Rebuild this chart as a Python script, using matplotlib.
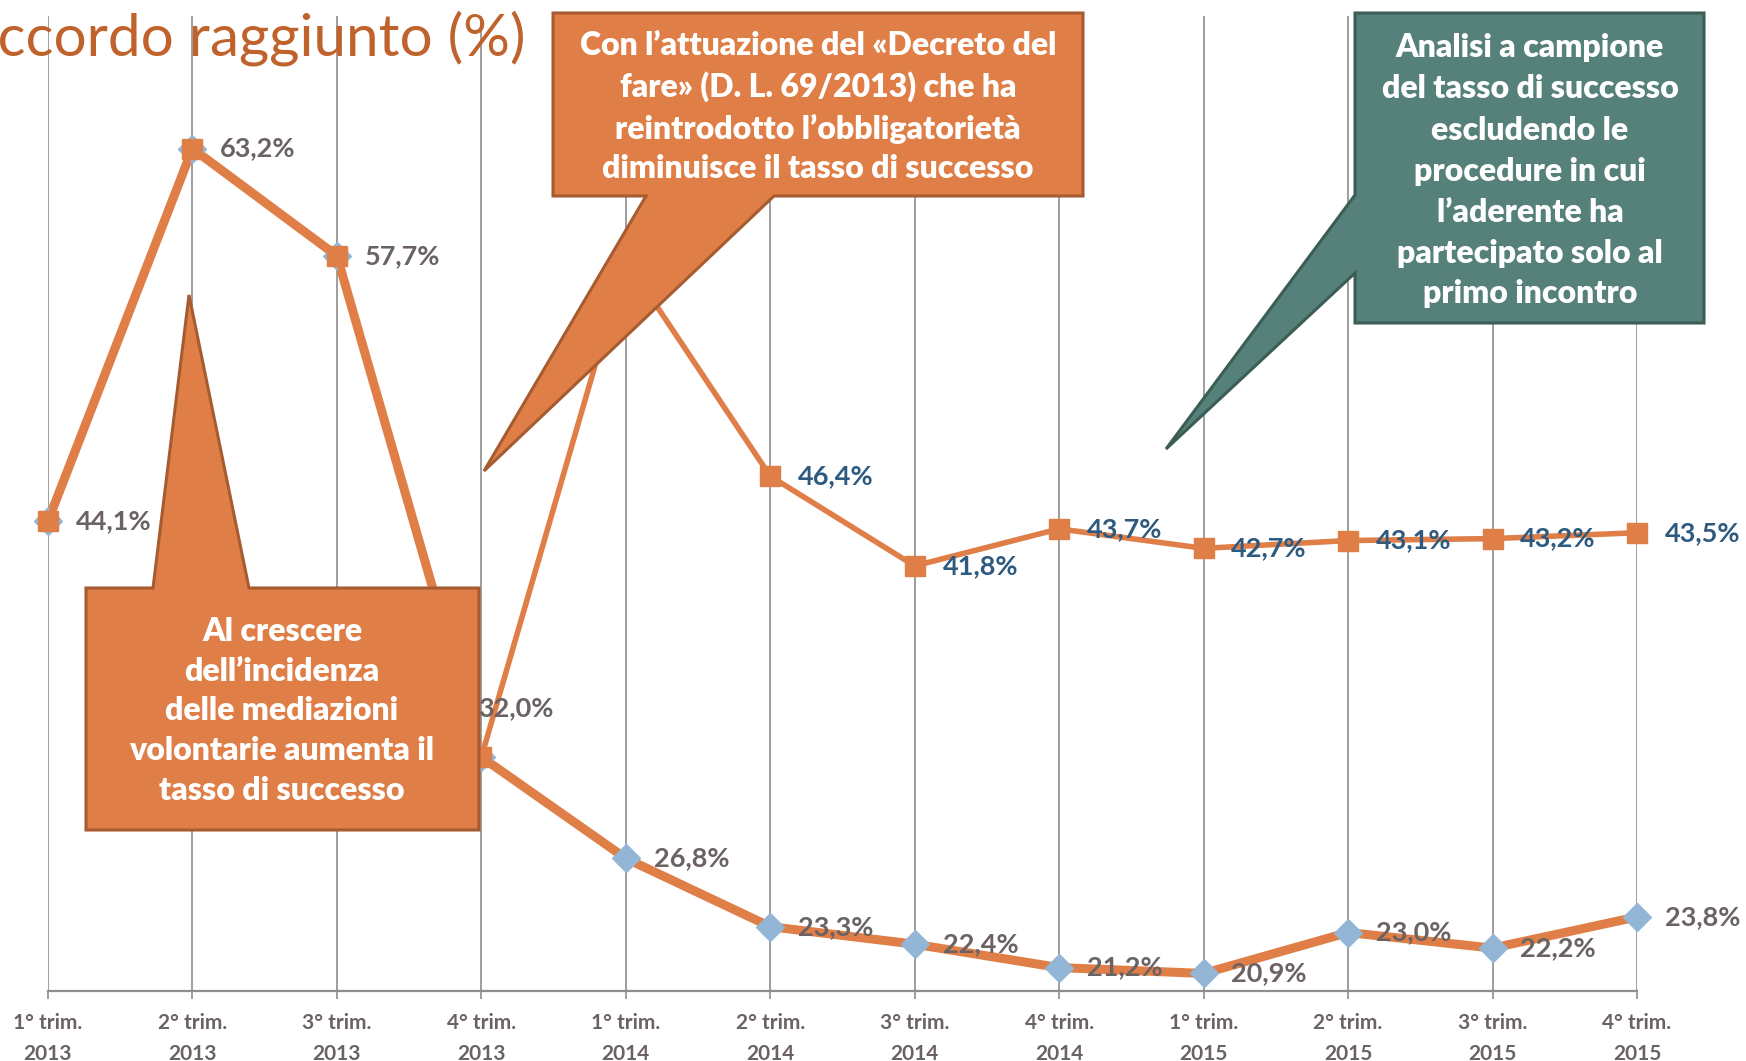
import matplotlib.pyplot as plt
from matplotlib.patches import Polygon

# data
quarters = ['1° trim.\n2013', '2° trim.\n2013', '3° trim.\n2013', '4° trim.\n2013',
            '1° trim.\n2014', '2° trim.\n2014', '3° trim.\n2014', '4° trim.\n2014',
            '1° trim.\n2015', '2° trim.\n2015', '3° trim.\n2015', '4° trim.\n2015']
tasso = [44.1, 63.2, 57.7, 32.0, 26.8, 23.3, 22.4, 21.2, 20.9, 23.0, 22.2, 23.8]
campione = [44.1, 63.2, 57.7, 32.0, 57.5, 46.4, 41.8, 43.7, 42.7, 43.1, 43.2, 43.5]
campione_labelled = [5, 6, 7, 8, 9, 10, 11]

title = 'Accordo raggiunto (%)'
note_decreto = ('Con l’attuazione del «Decreto del\nfare» (D. L. 69/2013) che ha\n'
                'reintrodotto l’obbligatorietà\ndiminuisce il tasso di successo')
note_volontarie = ('Al crescere\ndell’incidenza\ndelle mediazioni\n'
                   'volontarie aumenta il\ntasso di successo')
note_campione = ('Analisi a campione\ndel tasso di successo\nescludendo le\n'
                 'procedure in cui\nl’aderente ha\npartecipato solo al\nprimo incontro')

orange = '#DF7F47'
orange_edge = '#A65C30'
green = '#56817A'
green_edge = '#3B5E54'
grey_txt = '#6B6263'
blue_txt = '#2E5A80'
diamond = '#93B6D6'
grid_c = '#8E8E8E'

W, H = 1746, 1061
plt.rcParams['font.family'] = ['Lato', 'DejaVu Sans']

fig = plt.figure(figsize=(W / 100, H / 100), dpi=100)
ax = fig.add_axes([48 / W, (H - 991) / H, (1637 - 48) / W, (991 - 16) / H])

x = list(range(len(quarters)))
ax.plot(x, tasso, color=orange, lw=6.5, marker='D', ms=14, mfc=diamond, mec=diamond,
        zorder=3, solid_joinstyle='round', clip_on=False)
ax.plot(x, campione, color=orange, lw=4, marker='s', ms=14, mfc=orange, mec=orange,
        zorder=4, clip_on=False)

ax.set_xlim(0, len(quarters) - 1)
ax.set_ylim(20, 70)
ax.set_xticks(x)
ax.set_xticklabels(quarters, fontsize=15, fontweight='bold', color=grey_txt,
                   linespacing=1.65)
ax.set_yticks([])
for s in ['left', 'right', 'top']:
    ax.spines[s].set_visible(False)
ax.spines['bottom'].set_color(grid_c)
ax.spines['bottom'].set_linewidth(1.6)
ax.tick_params(axis='x', length=6, width=1.2, color=grid_c, pad=10)
ax.grid(axis='x', color=grid_c, lw=1.2)
ax.set_axisbelow(True)

for i, v in enumerate(tasso):
    lab = f'{v:.1f}%'.replace('.', ',')
    if i == 3:
        ax.annotate(lab, (i, v), xytext=(25, 35), textcoords='offset points',
                    ha='center', va='center', fontsize=19.5, fontweight='bold',
                    color=grey_txt, zorder=6)
    else:
        ax.annotate(lab, (i, v), xytext=(20, 0), textcoords='offset points',
                    ha='left', va='center', fontsize=19.5, fontweight='bold',
                    color=grey_txt, zorder=6)
for i in campione_labelled:
    lab = f'{campione[i]:.1f}%'.replace('.', ',')
    ax.annotate(lab, (i, campione[i]), xytext=(20, 0), textcoords='offset points',
                ha='left', va='center', fontsize=19.5, fontweight='bold',
                color=blue_txt, zorder=6)


def fpt(pts):
    return [(px / W, 1 - py / H) for px, py in pts]


callouts = [
    ([(553, 13), (1083, 13), (1083, 196), (774, 196), (484, 471), (646, 196), (553, 196)],
     orange, orange_edge, note_decreto, (818, 107), 1.45),
    ([(86, 588), (153, 588), (189, 295), (249, 588), (479, 588), (479, 830), (86, 830)],
     orange, orange_edge, note_volontarie, (282, 711), 1.45),
    ([(1355, 13), (1704, 13), (1704, 323), (1355, 323), (1355, 273), (1166, 449), (1355, 195)],
     green, green_edge, note_campione, (1530, 171), 1.5),
]
for pts, fc, ec, txt, (tx, ty), ls in callouts:
    fig.add_artist(Polygon(fpt(pts), closed=True, transform=fig.transFigure,
                           facecolor=fc, edgecolor=ec, lw=2.2, joinstyle='miter',
                           zorder=10))
    fig.text(tx / W, 1 - ty / H, txt, ha='center', va='center', fontsize=23,
             fontweight='heavy', color='white', linespacing=ls, zorder=11)

fig.text(525 / W, 1 - 55 / H, title, ha='right', va='baseline', fontsize=42,
         color='#C0622C', fontweight='normal')

fig.savefig('out.png', dpi=100)
